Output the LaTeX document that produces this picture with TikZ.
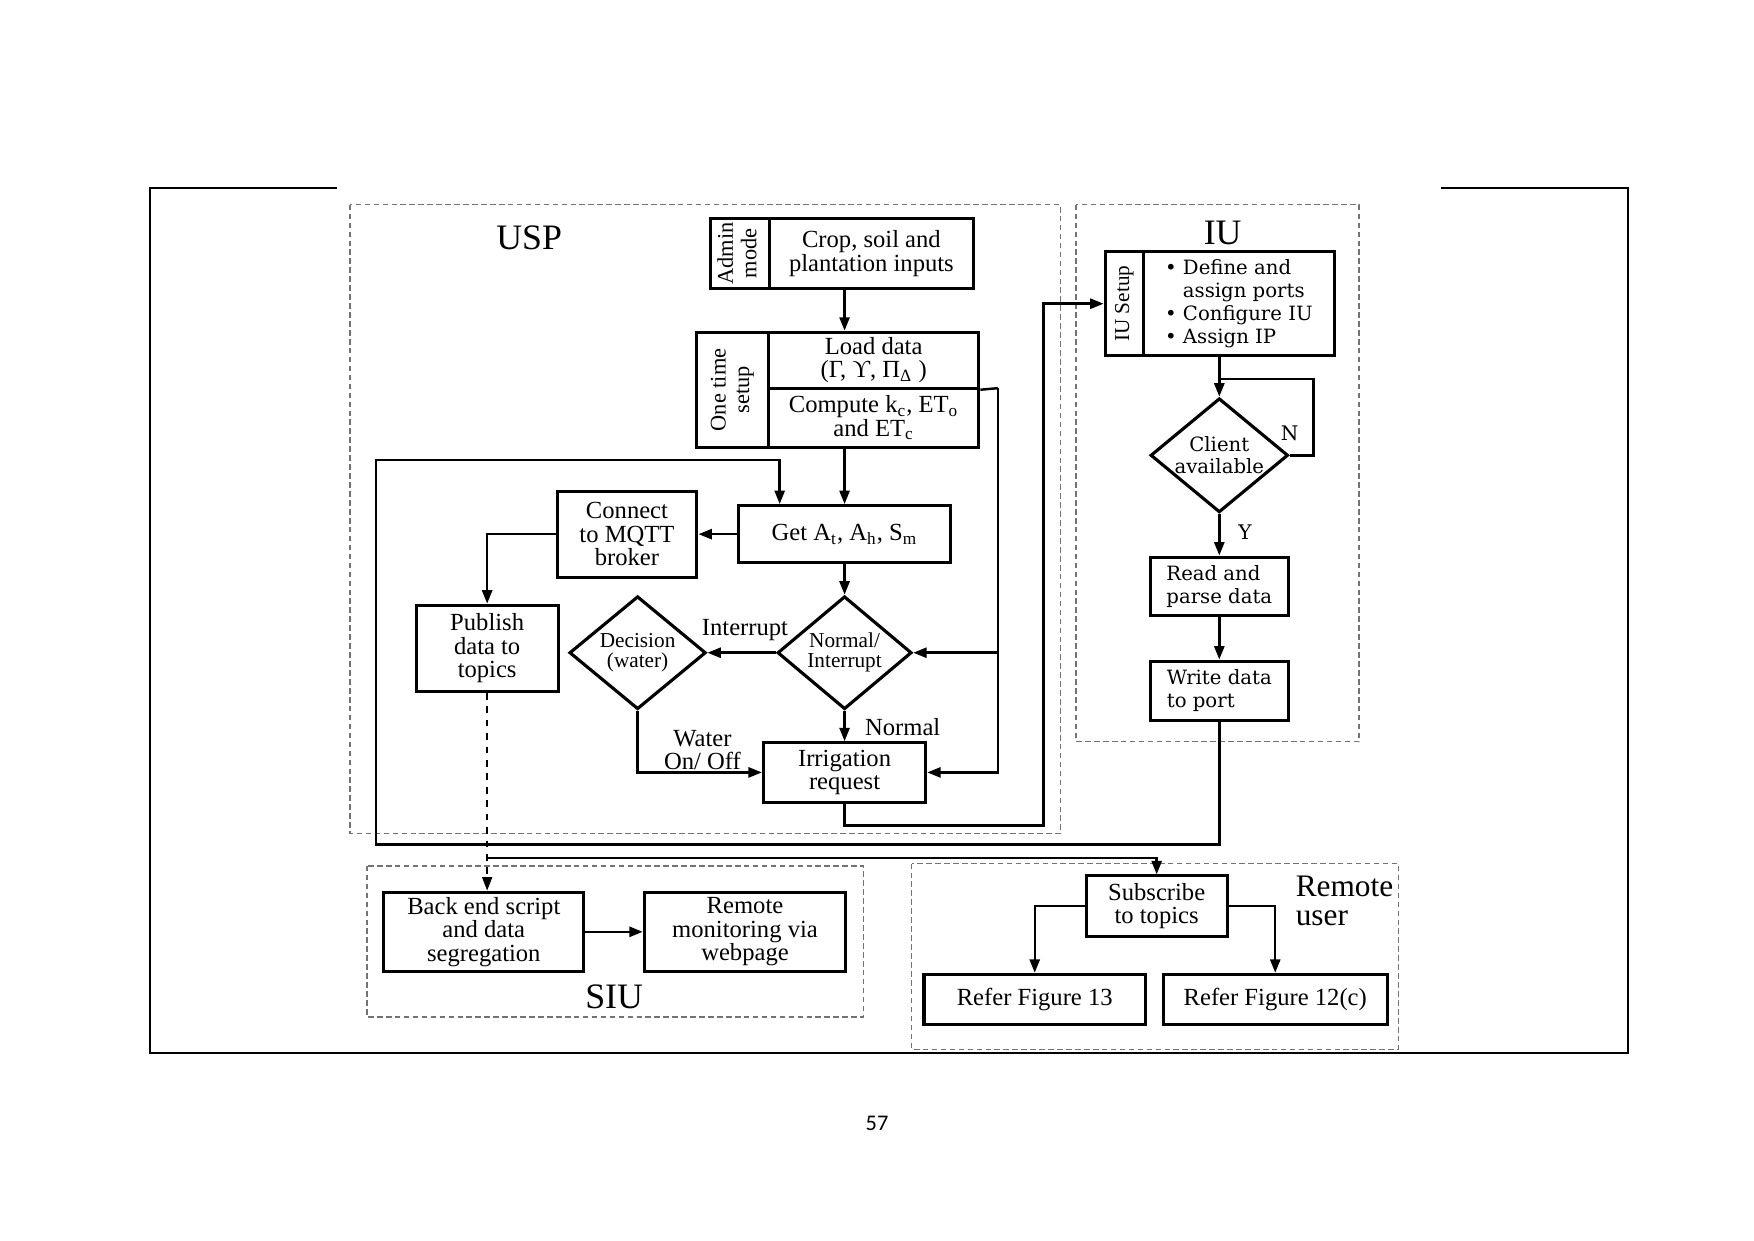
\documentclass[tikz,border=0pt]{standalone}
\usepackage{fontspec}
\setmainfont{Liberation Serif}
\newfontfamily\iufont{DejaVu Serif}
\newfontfamily\pgnofont{Carlito}
\usetikzlibrary{arrows.meta,shapes.geometric}

\begin{document}
\begin{tikzpicture}[x=0.5pt,y=-0.5pt,
  box/.style={draw,line width=1.4pt,align=center,inner sep=1pt,font=\fontsize{11}{10.5}\selectfont},
  dia/.style={draw,diamond,aspect=1.2,line width=1.4pt,align=center,inner sep=-2pt,font=\fontsize{9.5}{9}\selectfont},
  wh/.style 2 args={minimum width=#1*0.5pt,minimum height=#2*0.5pt},
  link/.style={line width=1.1pt},
  arr/.style={link,-{Triangle[length=6pt,width=4.5pt]}},
  zone/.style={draw=black!55,line width=0.6pt,dash pattern=on 2.5pt off 1.5pt},
  lbl/.style={font=\fontsize{11}{10.5}\selectfont,inner sep=0pt,align=center},
  ttl/.style={font=\fontsize{16}{18}\selectfont,inner sep=0pt}]
\useasboundingbox (0,0) rectangle (1568,1109);
% page frame and page number
\draw[line width=0.8pt] (301,168) -- (134,168) -- (134,941) -- (1455,941) -- (1455,168) -- (1288,168);
\node[font=\pgnofont\fontsize{10}{12}\selectfont] (pgno) at (784,1004) {57};

% dashed zones
\draw[zone] (313,183) rectangle (948,745);
\draw[zone] (962,183) rectangle (1215,663);
\draw[zone] (328,774) rectangle (772,909);
\draw[zone] (815,772) rectangle (1250,938);
\node[ttl] (usp) at (473,213) {USP};
\node[ttl] (iu) at (1093,208) {IU};
\node[ttl] (siu) at (549,891) {SIU};
\node[lbl,anchor=west,align=left,font=\fontsize{14}{13}\selectfont] (remote) at (1158,805) {Remote\\user};

% USP
\node[box,wh={53}{63},inner sep=0pt,font=\fontsize{10}{10.5}\selectfont] (admin) at (661.5,226.5)
  {\rotatebox{90}{\begin{tabular}{@{}c@{}}Admin\\mode\end{tabular}}};
\node[box,wh={182}{63}] (crop) at (779,226.5) {Crop, soil and\\plantation inputs};
\node[box,wh={64}{103},inner sep=0pt,font=\fontsize{10}{10.5}\selectfont] (onetime) at (655,348.5)
  {\rotatebox{90}{\begin{tabular}{@{}c@{}}One time\\setup\end{tabular}}};
\node[box,wh={188}{50}] (load) at (781,322) {Load data\\(Γ, ϒ, Π\textsubscript{Δ} )};
\node[box,wh={188}{53}] (compute) at (781,373.5) {Compute k\textsubscript{c}, ET\textsubscript{o}\\and ET\textsubscript{c}};
\node[box,wh={189}{51}] (get) at (755,477.5) {Get A\textsubscript{t}, A\textsubscript{h}, S\textsubscript{m}};
\node[box,wh={125}{77}] (mqtt) at (560.5,477.5) {Connect\\to MQTT\\broker};
\node[box,wh={127}{77}] (pub) at (435.5,579.5) {Publish\\data to\\topics};
\node[dia,wh={122}{101}] (dec) at (570,583.5) {Decision\\(water)};
\node[dia,wh={120}{101}] (ni) at (755,583.5) {Normal/\\Interrupt};
\node[box,wh={145}{53}] (irr) at (755,690.5) {Irrigation\\request};

% IU
\node[box,wh={34}{93},inner sep=0pt,font=\fontsize{9.5}{10}\selectfont] (iulab) at (1005,271.5) {\rotatebox{90}{IU Setup}};
\node[box,wh={171}{93},align=left,font=\iufont\fontsize{8.8}{10.3}\selectfont] (iutxt) at (1107.5,271.5)
  {• Define and\\\phantom{• }assign ports\\• Configure IU\\• Assign IP};
\node[dia,wh={123}{102},inner sep=-6pt,font=\iufont\fontsize{8.8}{10}\selectfont] (client) at (1090,407) {Client\\available};
\node[box,wh={123}{52},align=left,font=\iufont\fontsize{8.8}{10.3}\selectfont] (read) at (1090,524) {Read and\\parse data};
\node[box,wh={123}{53},align=left,font=\iufont\fontsize{8.8}{10.3}\selectfont] (write) at (1090,617.5) {Write data\\to port};

% SIU
\node[box,wh={179}{71}] (backend) at (432.5,833) {Back end script\\and data\\segregation};
\node[box,wh={180}{71}] (monitor) at (666,833) {Remote\\monitoring via\\webpage};

% Remote user
\node[box,wh={126}{54}] (sub) at (1034,810) {Subscribe\\to topics};
\node[box,wh={198}{45}] (ref13) at (925,893.5) {Refer Figure 13};
\node[box,wh={200}{45}] (ref12) at (1140,893.5) {Refer Figure 12(c)};

% connectors
\draw[arr] (crop.south -| get.north) -- (load.north -| get.north);
\draw[arr] (compute.south -| get.north) -- (get.north);
\draw[arr] (get.west) -- (mqtt.east);
\draw[arr] (mqtt.west) -| (pub.north);
\draw[arr] (get.south) -- (ni.north);
\draw[arr] (ni.west) -- (dec.east);
\draw[arr] (ni.south) -- (irr.north);
\draw[arr] (dec.south) |- (irr.west);
\node[lbl] (intr) at (666,563) {Interrupt};
\node[lbl] (norm) at (807,650) {Normal};
\node[lbl] (water) at (628,670.5) {Water\\On/ Off};

\coordinate (fb) at (892,347);
\draw[link] (load.south east) -- (fb);
\draw[arr] (fb) |- (irr.east);
\draw[arr] (fb |- ni.east) -- (ni.east);

\coordinate (c1) at (933,738);
\draw[arr] (irr.south) |- (c1) |- (iulab.west);

\draw[arr] (client.north |- iutxt.south) -- (client.north);
\coordinate (nl) at (1174,339);
\draw[link] (client.east) -| (nl) -- (nl -| client.north);
\node[lbl,font=\iufont\fontsize{9}{10}\selectfont] (nlab) at (1153,387) {N};
\draw[arr] (client.south) -- (read.north);
\node[lbl,font=\iufont\fontsize{9}{10}\selectfont] (ylab) at (1113,476) {Y};
\draw[arr] (read.south) -- (write.north);

\coordinate (lb) at (336,755);
\coordinate (lt) at (697,411);
\draw[arr] (write.south) |- (lb) |- (lt) -- (lt |- get.north);

\draw[arr,line width=0.6pt,dashed] (pub.south) -- (pub.south |- backend.north);
\draw[arr] (pub.south |- 0,767) -| (sub.north);
\draw[arr] (backend.east) -- (monitor.west);
\draw[arr] (sub.west) -| (ref13.north);
\draw[arr] (sub.east) -| (ref12.north);
\end{tikzpicture}
\end{document}
